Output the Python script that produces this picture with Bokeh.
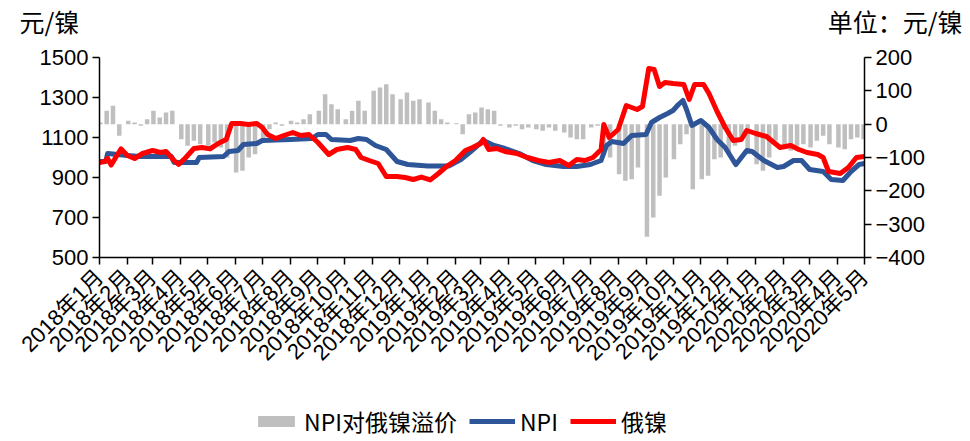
import pandas as pd
from math import pi
from bokeh.plotting import figure
from bokeh.layouts import column
from bokeh.models import Range1d, LinearAxis, FixedTicker, Legend, LegendItem
from bokeh.core.properties import value
from bokeh.embed import file_html
from bokeh.resources import INLINE

# ---------------- data ----------------
npi_dates = ["2018-01-01", "2018-01-08", "2018-01-10", "2018-02-01", "2018-02-15", "2018-03-01",
             "2018-03-22", "2018-03-25", "2018-04-19", "2018-04-22", "2018-05-19", "2018-05-25",
             "2018-06-04", "2018-06-10", "2018-06-25", "2018-07-01", "2018-08-01", "2018-08-25",
             "2018-09-01", "2018-09-10", "2018-09-16", "2018-10-07", "2018-10-16", "2018-10-25",
             "2018-11-04", "2018-11-16", "2018-11-28", "2018-12-10", "2019-01-01", "2019-01-25",
             "2019-02-07", "2019-02-18", "2019-03-04", "2019-03-16", "2019-03-28", "2019-04-13",
             "2019-04-28", "2019-05-13", "2019-06-01", "2019-06-16", "2019-07-01", "2019-07-13",
             "2019-07-19", "2019-07-25", "2019-08-07", "2019-08-16", "2019-09-01", "2019-09-07",
             "2019-09-16", "2019-09-25", "2019-10-01", "2019-10-07", "2019-10-12", "2019-10-16",
             "2019-10-22", "2019-11-01", "2019-11-10", "2019-11-19", "2019-11-28", "2019-12-07",
             "2019-12-10", "2019-12-22", "2019-12-28", "2020-01-10", "2020-01-25", "2020-02-01",
             "2020-02-12", "2020-02-21", "2020-03-01", "2020-03-16", "2020-03-25", "2020-04-07",
             "2020-04-16", "2020-04-25", "2020-05-01"]
npi_values = [980, 980, 1020, 1010, 1005, 1005,
              1005, 975, 975, 1000, 1005, 1030,
              1035, 1065, 1070, 1085, 1090, 1095,
              1115, 1115, 1090, 1085, 1095, 1090,
              1060, 1040, 980, 965, 958, 958,
              990, 1030, 1085, 1060, 1045, 1020,
              985, 965, 955, 955, 965, 985,
              1060, 1080, 1070, 1110, 1115, 1175,
              1200, 1220, 1235, 1265, 1285, 1240,
              1160, 1185, 1150, 1090, 1050, 985,
              965, 1035, 1030, 985, 950, 955,
              985, 985, 940, 930, 890, 885,
              930, 965, 970]

rus_dates = ["2018-01-01", "2018-01-07", "2018-01-10", "2018-01-14", "2018-01-19", "2018-01-25",
             "2018-02-01", "2018-02-09", "2018-02-18", "2018-03-01", "2018-03-10", "2018-03-16",
             "2018-03-25", "2018-03-30", "2018-04-07", "2018-04-16", "2018-04-25", "2018-05-04",
             "2018-05-13", "2018-05-22", "2018-05-28", "2018-06-07", "2018-06-16", "2018-06-25",
             "2018-07-01", "2018-07-07", "2018-07-16", "2018-07-25", "2018-08-04", "2018-08-13",
             "2018-08-22", "2018-09-01", "2018-09-13", "2018-09-22", "2018-10-04", "2018-10-13",
             "2018-10-19", "2018-10-28", "2018-11-07", "2018-11-16", "2018-11-28", "2018-12-07",
             "2018-12-16", "2018-12-25", "2019-01-04", "2019-01-13", "2019-01-22", "2019-02-01",
             "2019-02-12", "2019-02-20", "2019-03-01", "2019-03-04", "2019-03-10", "2019-03-19",
             "2019-03-28", "2019-04-10", "2019-04-22", "2019-05-04", "2019-05-16", "2019-05-28",
             "2019-06-07", "2019-06-16", "2019-06-25", "2019-07-04", "2019-07-13", "2019-07-16",
             "2019-07-22", "2019-08-01", "2019-08-10", "2019-08-22", "2019-08-28", "2019-09-04",
             "2019-09-10", "2019-09-16", "2019-09-22", "2019-10-01", "2019-10-13", "2019-10-19",
             "2019-10-25", "2019-11-04", "2019-11-10", "2019-11-19", "2019-11-28", "2019-12-07",
             "2019-12-16", "2019-12-22", "2020-01-01", "2020-01-13", "2020-01-28", "2020-02-09",
             "2020-02-18", "2020-02-27", "2020-03-10", "2020-03-16", "2020-03-22", "2020-04-04",
             "2020-04-13", "2020-04-22", "2020-05-01"]
rus_values = [975, 980, 995, 962, 1000, 1043,
              1010, 995, 1020, 1035, 1025, 1030,
              985, 965, 1000, 1045, 1050, 1043,
              1070, 1090, 1170, 1170, 1165, 1170,
              1150, 1115, 1095, 1110, 1125, 1110,
              1115, 1075, 1015, 1040, 1050, 1040,
              1000, 985, 970, 905, 905, 900,
              890, 902, 888, 920, 955, 985,
              1035, 1050, 1070, 1090, 1040, 1045,
              1030, 1020, 1000, 985, 975, 985,
              960, 990, 985, 1000, 1040, 1165,
              1100, 1140, 1260, 1240, 1255, 1445,
              1440, 1355, 1375, 1370, 1365, 1290,
              1365, 1365, 1320, 1230, 1150, 1085,
              1090, 1135, 1120, 1105, 1050, 1060,
              1040, 1025, 1015, 1000, 930, 920,
              950, 1000, 1005]

tick_months = ["2018-01", "2018-02", "2018-03", "2018-04", "2018-05", "2018-06", "2018-07",
               "2018-08", "2018-09", "2018-10", "2018-11", "2018-12", "2019-01", "2019-02",
               "2019-03", "2019-04", "2019-05", "2019-06", "2019-07", "2019-08", "2019-09",
               "2019-10", "2019-11", "2019-12", "2020-01", "2020-02", "2020-03", "2020-04",
               "2020-05"]
tick_labels = ["2018年1月", "2018年2月", "2018年3月", "2018年4月", "2018年5月", "2018年6月",
               "2018年7月", "2018年8月", "2018年9月", "2018年10月", "2018年11月", "2018年12月",
               "2019年1月", "2019年2月", "2019年3月", "2019年4月", "2019年5月", "2019年6月",
               "2019年7月", "2019年8月", "2019年9月", "2019年10月", "2019年11月", "2019年12月",
               "2020年1月", "2020年2月", "2020年3月", "2020年4月", "2020年5月"]

prem_days = [2, 9, 16, 23]
prem_values = [5, 40, 55, -35,
               10, 5, -5, 15,
               40, 20, 35, 40,
               -45, -65, -50, -60,
               -65, -55, -70, -100,
               -145, -140, -100, -90,
               -55, -15, 5, -5,
               10, 5, 15, 30,
               40, 90, 60, 45,
               15, 40, 70, 40,
               100, 110, 120, 90,
               75, 95, 70, 75,
               65, 40, 15, 5,
               3, -30, 30, 35,
               50, 45, 40, -5,
               -10, -5, -15, -10,
               -15, -20, -10, -20,
               -25, -40, -45, -45,
               -10, -5, -70, -100,
               -150, -170, -165, -130,
               -338, -280, -215, -160,
               -105, -60, -30, -195,
               -165, -155, -105, -100,
               -85, -65, -45, -90,
               -120, -140, -100, -50,
               -70, -80, -65, -60,
               -70, -50, -35, -60,
               -70, -75, -45, -40,
               -45]

left_ticks = [500, 700, 900, 1100, 1300, 1500]
right_ticks = [-400, -300, -200, -100, 0, 100, 200]
left_unit = "元/镍"
right_unit = "单位：元/镍"
series_names = ["NPI对俄镍溢价", "NPI", "俄镍"]

GREY, BLUE, RED = "#BFBFBF", "#2E5597", "#FF0000"
NUM_FONT = "'Liberation Sans', 'Noto Sans CJK SC', sans-serif"
CJK_FONT = "'Noto Sans CJK SC', sans-serif"
W = 962

# ---------------- build ----------------
npi_x = pd.to_datetime(npi_dates)
rus_x = pd.to_datetime(rus_dates)
prem_x = pd.to_datetime([f"{m}-{d:02d}" for m in tick_months[:-1] for d in prem_days] + ["2020-04-30"])
tick_x = pd.to_datetime([f"{m}-01" for m in tick_months])
tick_ms = [int(t.value // 10**6) for t in tick_x]


def strip(height, xr, yr):
    fig = figure(width=W, height=height, x_range=xr, y_range=yr,
                 x_axis_location=None, y_axis_location=None,
                 output_backend="svg", toolbar_location=None,
                 min_border_left=0, min_border_right=0, min_border_top=0, min_border_bottom=0)
    fig.xgrid.visible = False
    fig.ygrid.visible = False
    fig.outline_line_color = None
    fig.background_fill_color = "white"
    fig.border_fill_color = "white"
    try:
        fig.frame_align = False
    except Exception:
        pass
    return fig


# header strip with the two unit texts
head = strip(40, Range1d(0, W), Range1d(0, 40))
head.text(x=[19], y=[20], text=[left_unit], text_font=value(CJK_FONT), text_font_size="25px",
          text_baseline="middle", text_align="left", text_color="black")
head.text(x=[W], y=[20], text=[right_unit], text_font=value(CJK_FONT), text_font_size="25px",
          text_baseline="middle", text_align="right", text_color="black")

# main chart
p = figure(width=W, height=355, x_axis_type="datetime",
           x_range=Range1d(tick_x[0], tick_x[-1]), y_range=Range1d(500, 1500),
           output_backend="svg", toolbar_location=None,
           min_border_left=99, min_border_right=98, min_border_top=17, min_border_bottom=138)
p.outline_line_color = None
p.xgrid.visible = False
p.ygrid.visible = False
p.background_fill_color = "white"
p.border_fill_color = "white"
p.extra_y_ranges = {"prem": Range1d(-400, 200)}

p.vbar(x=prem_x, top=prem_values, bottom=0, width=5 * 86400000,
       y_range_name="prem", fill_color=GREY, line_color=None)
p.line(npi_x, npi_values, line_color=BLUE, line_width=5, line_join="round")
p.line(rus_x, rus_values, line_color=RED, line_width=5, line_join="round")


def style_axis(ax):
    ax.axis_line_color = "black"
    ax.axis_line_width = 1.5
    ax.major_tick_line_color = "black"
    ax.major_tick_line_width = 1.5
    ax.major_tick_in = 0
    ax.major_tick_out = 7
    ax.minor_tick_line_color = None
    ax.major_label_text_font = NUM_FONT
    ax.major_label_text_font_size = "22px"
    ax.major_label_text_color = "black"
    ax.major_label_standoff = 4


xa = p.xaxis[0]
style_axis(xa)
xa.ticker = FixedTicker(ticks=tick_ms)
xa.major_label_overrides = {ms: lab for ms, lab in zip(tick_ms, tick_labels)}
xa.major_label_orientation = pi / 4
xa.major_label_text_font_size = "22px"
xa.major_label_standoff = 9

ya = p.yaxis[0]
style_axis(ya)
ya.ticker = FixedTicker(ticks=left_ticks)

ra = LinearAxis(y_range_name="prem", ticker=FixedTicker(ticks=right_ticks))
style_axis(ra)
ra.major_label_overrides = {t: str(t).replace("-", "\u2212") for t in right_ticks}
p.add_layout(ra, "right")

# legend strip (swatches styled like the chart's renderers, drawn outside the strip's view)
leg = strip(44, Range1d(0, 1), Range1d(0, 1))
lb = leg.vbar(x=[5], top=[6], bottom=[5], width=0.1, fill_color=GREY, line_color=None)
ln = leg.line(x=[5, 6], y=[5, 5], line_color=BLUE, line_width=5)
lr = leg.line(x=[5, 6], y=[5, 5], line_color=RED, line_width=5)
legend = Legend(items=[LegendItem(label=series_names[0], renderers=[lb]),
                       LegendItem(label=series_names[1], renderers=[ln]),
                       LegendItem(label=series_names[2], renderers=[lr])],
                orientation="horizontal", location=(253, 1),
                glyph_width=46, glyph_height=14, label_height=24,
                label_text_font=CJK_FONT, label_text_font_size="23px", label_text_color="black",
                label_standoff=5, spacing=12, padding=0, margin=0,
                border_line_color=None, background_fill_alpha=0)
leg.add_layout(legend)

layout = column(head, p, leg, spacing=0)
open("out.html", "w").write(file_html(layout, INLINE))
